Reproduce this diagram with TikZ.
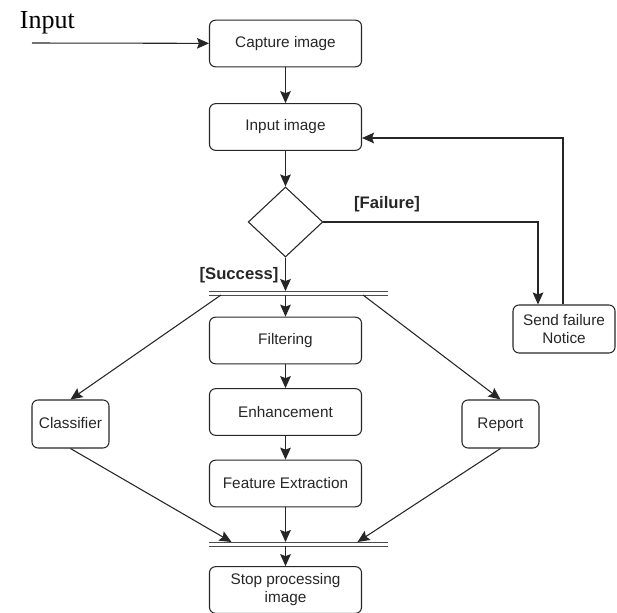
\documentclass[tikz,border=0pt]{standalone}
\usepackage{fontspec}
\setmainfont{Liberation Serif}
\setsansfont{Liberation Sans}
\usetikzlibrary{shapes.geometric,arrows.meta,calc}
\tikzset{
  box/.style={draw, rounded corners=4.5pt, minimum width=114pt, minimum height=35pt,
    align=center, text=black!85, font=\sffamily\fontsize{11.5}{13.5}\selectfont},
  small box/.style={box, minimum width=57.75pt, minimum height=36pt, text depth=0.25ex},
  decision/.style={draw, diamond, minimum width=56pt, minimum height=52.5pt, inner sep=0pt},
  bar/.style={minimum width=134.25pt, minimum height=3pt, inner sep=0pt, outer sep=0pt},
  guard/.style={text=black!85, font=\sffamily\bfseries\fontsize{12.5}{14}\selectfont},
  flow/.style={-{Stealth[length=9pt,width=8pt,inset=1.5pt]}}
}
\begin{document}
\begin{tikzpicture}[x=0.75pt, y=-0.75pt, line width=0.8pt, draw=black!85]
\useasboundingbox (0,0) rectangle (617,613);
\node[font=\fontsize{19.5}{22}\selectfont, anchor=base west] (inlabel) at (15,29) {Input};
\coordinate (start) at (32,43);
\node[box] (capture) at (285.5,43.5) {Capture image};
\node[box] (inimg) at (285.5,127) {Input image};
\node[decision] (check) at (285.5,222) {};
\node[bar] (fork) at (298.5,293) {};
\node[box] (filter) at (285.5,340.5) {Filtering};
\node[box] (enhance) at (285.5,412) {Enhancement};
\node[box] (feature) at (285.5,483.5) {Feature Extraction};
\node[bar] (join) at (298,544) {};
\node[box] (stop) at (285.5,590) {Stop processing\\image};
\node[small box] (classifier) at (70.5,424) {Classifier};
\node[small box] (report) at (500.5,424) {Report};
\node[box, minimum width=76.5pt, minimum height=36pt] (fail) at (564,329) {Send failure\\Notice};
\node[guard] (failure) at (387,204) {[Failure]};
\node[guard] (success) at (239,275) {[Success]};
\foreach \b in {fork,join}
  \draw[black!70, line width=0.6pt] (\b.north west) -- (\b.north east) (\b.south west) -- (\b.south east);
\draw[flow] (start) -- (capture);
\draw[flow] (capture) -- (inimg);
\draw[flow] (inimg) -- (check);
\draw[flow] (check) -- (check |- fork.north);
\draw[flow] (check |- fork.south) -- (filter);
\draw[flow] (filter) -- (enhance);
\draw[flow] (enhance) -- (feature);
\draw[flow] (feature) -- (feature |- join.north);
\draw[flow] (feature |- join.south) -- (stop);
\draw[flow] ($(fork.south west)+(12,0)$) -- (classifier.north);
\draw[flow] ($(fork.south east)+(-25,0)$) -- (report.north);
\draw[flow] (classifier.south) -- ($(join.north west)+(23,0)$);
\draw[flow] (report.south) -- ($(join.north east)+(-30,0)$);
\draw[flow] (check.east) -| ($(fail.north)+(-26,0)$);
\draw[flow] ($(fail.north)+(-1,0)$) |- ($(inimg.east)+(0,11)$);
\end{tikzpicture}
\end{document}
